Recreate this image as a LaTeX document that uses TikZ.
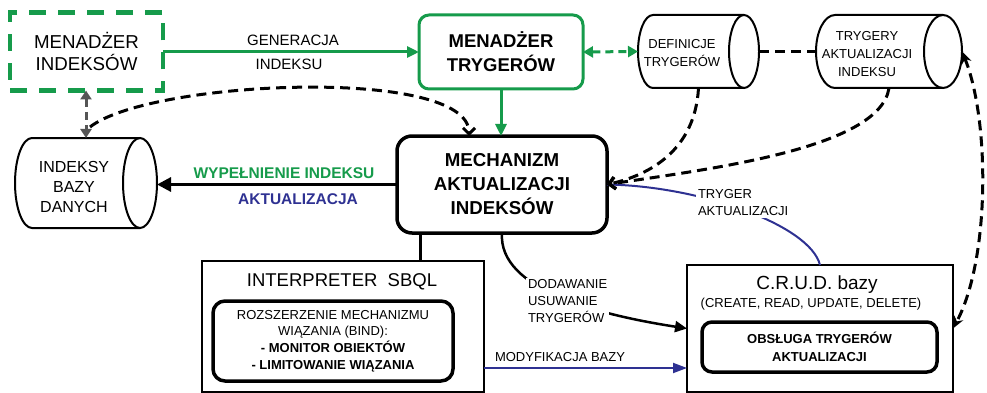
\documentclass[tikz,border=0pt]{standalone}
\usepackage{fontspec}
\setmainfont{Liberation Sans}
\usetikzlibrary{arrows.meta}
\definecolor{mgreen}{RGB}{22,155,75}
\definecolor{mblue}{RGB}{46,49,146}
\definecolor{mgray}{RGB}{85,85,85}
\newcommand{\fsz}[2]{\fontsize{#1}{#2}\selectfont}
\newcommand{\cylshape}[6]{%
  \node[minimum width={(#4-#2)*1pt}, minimum height={(#5-#3)*1pt}] (#1) at ({(#2+#4)/2},{(#3+#5)/2}) {};
  \draw[cyl] ({#4-#6},#3) -- ({#2+#6},#3) arc[start angle=90, end angle=270, x radius=#6pt, y radius={(#5-#3)/2*1pt}] -- ({#4-#6},#5);
  \draw[cyl] ({#4-#6},{(#3+#5)/2}) ellipse[x radius=#6pt, y radius={(#5-#3)/2*1pt}];
}
\begin{document}
\begin{tikzpicture}[x=1pt,y=-1pt,
  every node/.style={inner sep=0pt, outer sep=0pt},
  cyl/.style={draw=black, line width=2pt},
  bdash/.style={black, line width=3pt, dash pattern=on 10pt off 6pt},
  barb/.style={-{Straight Barb[length=6pt,width=12pt]}},
  thinbox/.style={draw=black, line width=2pt},
  roundbox/.style={draw=black, line width=3.5pt, rounded corners=12pt},
  cyltext/.style={align=center, font=\fsz{13}{18}},
  wlabel/.style={fill=white, inner sep=2pt, align=left, font=\fsz{13}{17}}
]
\useasboundingbox (0,0) rectangle (987,393);

% ---- boxes ----
\node[draw=mgreen, line width=4.5pt, dash pattern=on 17pt off 12pt,
      minimum width=153pt, minimum height=78pt, align=center, font=\fsz{18.7}{22}]
      (mi) at (86.5,51.5) {MENADŻER\\INDEKSÓW};
\node[draw=mgreen, line width=3pt, rounded corners=10pt, minimum width=164pt, minimum height=74pt,
      align=center, font=\bfseries\fsz{18.5}{24}] (mt) at (501,52) {MENADŻER\\TRYGERÓW};

\cylshape{defs}{638}{15}{759}{88}{15}
\node[cyltext] (defst) at (682,53) {DEFINICJE\\TRYGERÓW};
\cylshape{tai}{816}{15}{962}{88}{19}
\node[cyltext] (taitxt) at (867,54.5) {TRYGERY\\AKTUALIZACJI\\INDEKSU};
\cylshape{dbi}{15}{138}{157}{228}{17}
\node[align=center, font=\fsz{16}{20}] (dbit) at (74,187) {INDEKSY\\BAZY\\DANYCH};

\node[draw=black, line width=3.5pt, rounded corners=15pt, minimum width=210pt, minimum height=97pt,
      align=center, font=\bfseries\fsz{18.7}{24}] (mech) at (502,184.5) {MECHANIZM\\AKTUALIZACJI\\INDEKSÓW};

\node[thinbox, minimum width=282pt, minimum height=131pt] (interp) at (343,326.5) {};
\node[font=\fsz{18.5}{22}] (interpt) at (342,282) {INTERPRETER\ \ SBQL};
\node[roundbox, minimum width=240pt, minimum height=80pt, align=center, font=\fsz{13}{16.7}]
      (bind) at (333,341) {ROZSZERZENIE MECHANIZMU\\WIĄZANIA (BIND):\\\textbf{- MONITOR OBIEKTÓW}\\\textbf{- LIMITOWANIE WIĄZANIA}};

\node[thinbox, minimum width=266pt, minimum height=127pt] (crud) at (820,328.5) {};
\node[font=\fsz{19}{22}] (crudt) at (817,285) {C.R.U.D. bazy};
\node[font=\fsz{13}{16}] (crudst) at (811,304) {(CREATE, READ, UPDATE, DELETE)};
\node[roundbox, rounded corners=10pt, minimum width=235pt, minimum height=50pt, align=center,
      font=\bfseries\fsz{13}{18}] (obs) at (819.5,347) {OBSŁUGA TRYGERÓW\\AKTUALIZACJI};

% ---- connectors ----
\draw[mgreen, line width=3pt, -{Triangle[length=12pt,width=11pt]}] (mi.east |- mt.west) -- (mt.west);
\node[font=\fsz{15}{18}] (gen1) at (293,40) {GENERACJA};
\node[font=\fsz{15}{18}] (gen2) at (289,64) {INDEKSU};

\draw[mgreen, line width=3pt, dash pattern=on 8pt off 5pt,
      {Triangle[length=10pt,width=11pt]}-{Triangle[length=10pt,width=11pt]}] (mt.east) -- (defs.west);
\draw[bdash] (defs.east) -- (tai.west);

\draw[mgray, line width=3pt, dash pattern=on 8pt off 5pt,
      {Triangle[length=9pt,width=11pt]}-{Triangle[length=9pt,width=11pt]}] (mi.south -| dbi.north) -- (dbi.north);

\draw[bdash, barb] ([shift={(4,-11)}]dbi.north) .. controls (150,80) and (469,66) .. ([xshift=-33pt]mech.north);

\draw[mgreen, line width=3pt, -{Triangle[length=12pt,width=11pt]}] (mt.south) -- (mt.south |- mech.north);

\draw[black, line width=3pt, -{Triangle[length=14pt,width=14pt]}] (mech.west) -- (mech.west -| dbi.east);
\node[font=\bfseries\fsz{15.5}{18}, text=mgreen] (wyp) at (284,173) {WYPEŁNIENIE INDEKSU};
\node[font=\bfseries\fsz{15.5}{18}, text=mblue] (akt) at (298,199) {AKTUALIZACJA};

\draw[mblue, line width=2pt] (crud.north) .. controls (810,225) and (700,186) .. (mech.east);
\node[wlabel, anchor=west] (tryg) at (696,202.5) {TRYGER\\AKTUALIZACJI};

\draw[bdash, barb] (defs.south) .. controls (695,150) and (650,175) .. (mech.east);
\draw[bdash, barb] (tai.south) .. controls (880,150) and (700,170) .. (mech.east);

\draw[bdash, {Stealth[length=12pt,width=10pt]}-{Stealth[length=12pt,width=10pt]}]
      (tai.east) .. controls (990,120) and (990,260) .. (crud.east);

\coordinate (lx) at (420,0);
\draw[black, line width=3pt] (mech.south -| lx) -- (interp.north -| lx);

\draw[black, line width=2.5pt, -{Triangle[length=12pt,width=11pt]}] (mech.south) .. controls (498,290) and (600,315) .. (crud.west);
\node[wlabel, anchor=west] (dod) at (526,301.5) {DODAWANIE\\USUWANIE\\TRYGERÓW};

\coordinate (my) at (0,368);
\draw[mblue, line width=2pt, -{Triangle[length=14pt,width=10pt]}] (interp.east |- my) -- (crud.west |- my);
\node[font=\fsz{13}{16}, anchor=west] (mod) at (495,357) {MODYFIKACJA BAZY};
\end{tikzpicture}
\end{document}
